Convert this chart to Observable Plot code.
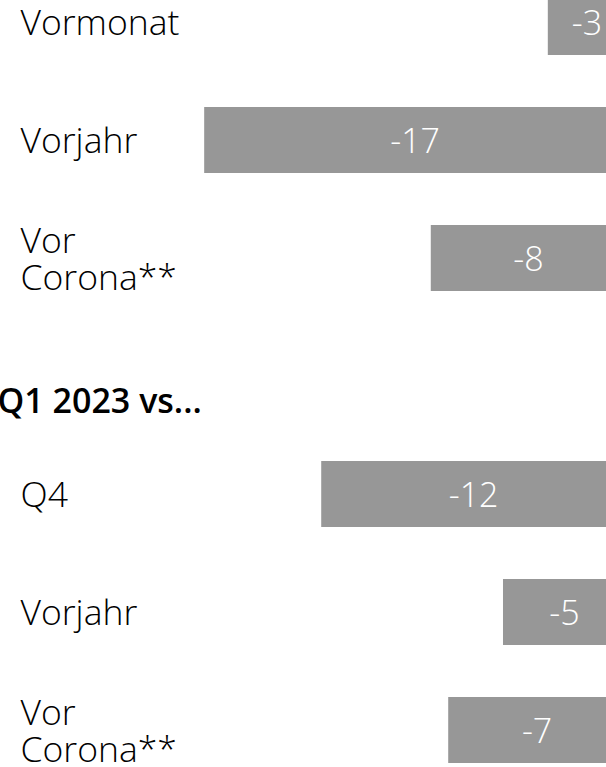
<!DOCTYPE html>
<html><head><meta charset="utf-8">
<script src="https://cdn.jsdelivr.net/npm/d3@7"></script>
<script src="https://cdn.jsdelivr.net/npm/@observablehq/plot@0.6"></script>
<style>html,body{margin:0;padding:0;overflow:hidden;background:#fff}</style>
</head><body><div id="chart"></div>
<script>
// Section 1 (header above is cropped out of view)
const section1Labels = ["Vormonat", "Vorjahr", "Vor\nCorona**"];
const section1Values = [-3.1, -16.9, -7.8];
// Section 2
const section2Header = "Q1 2023 vs...";
const section2Labels = ["Q4", "Vorjahr", "Vor\nCorona**"];
const section2Values = [-12.2, -4.9, -7.1];

const rows = [
  ...section1Labels.map((label, i) => ({key: "a" + i, label, value: section1Values[i]})),
  {key: "h", header: section2Header},
  ...section2Labels.map((label, i) => ({key: "b" + i, label, value: section2Values[i]}))
];
const bars = rows.filter(d => d.value != null);
const headers = rows.filter(d => d.header != null);
const keys = rows.map(d => d.key);

const chart = Plot.plot({
  width: 625,
  height: 767,
  margin: 0,
  x: {domain: [-25.1, 0], range: [0, 625], axis: null},
  y: {type: "band", domain: keys, range: [-37, 789], paddingInner: 0.44, paddingOuter: 0.22, axis: null},
  style: {fontFamily: "'Open Sans', sans-serif", background: "white", maxWidth: "none", overflow: "hidden"},
  marks: [
    Plot.barX(bars, {x: "value", y: "key", fill: "#979797"}),
    Plot.text(bars, {x: d => d.value / 2, y: "key", text: d => String(Math.round(d.value)), fill: "white", fontSize: 34, fontWeight: 300, textAnchor: "middle", dy: 2}),
    Plot.text(bars, {y: "key", text: "label", frameAnchor: "left", dx: 20, textAnchor: "start", fill: "black", fontSize: 35.5, fontWeight: 300, lineHeight: 1.05, dy: 1}),
    Plot.text(headers, {y: "key", text: "header", frameAnchor: "left", dx: -3, textAnchor: "start", fill: "black", fontSize: 34, fontWeight: 600, dy: 26})
  ]
});
chart.style.maxWidth = "none";
document.getElementById("chart").appendChild(chart);
</script>
</body></html>
